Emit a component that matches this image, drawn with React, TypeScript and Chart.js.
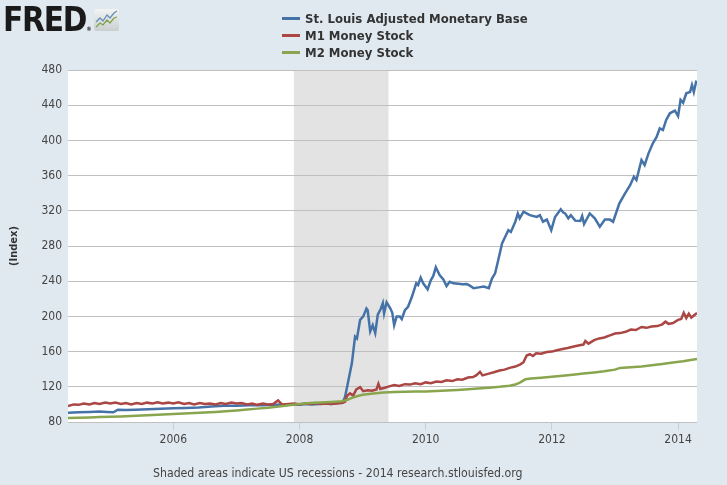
import React, { useEffect, useRef } from "react";
import { Chart, registerables } from "chart.js";

Chart.register(...registerables);

const seriesNames = ["St. Louis Adjusted Monetary Base", "M1 Money Stock", "M2 Money Stock"];
const seriesColors = ["#4572a7", "#aa4643", "#89a54e"];

const baseDates = [2004.33, 2004.5, 2004.67, 2004.83, 2004.95, 2005.05, 2005.12, 2005.25, 2005.4, 2005.6, 2005.8, 2006.0, 2006.2, 2006.4, 2006.6, 2006.8, 2007.0, 2007.2, 2007.4, 2007.6, 2007.8, 2008.0, 2008.1, 2008.2, 2008.3, 2008.4, 2008.5, 2008.6, 2008.68, 2008.72, 2008.76, 2008.83, 2008.88, 2008.91, 2008.96, 2009.01, 2009.06, 2009.08, 2009.12, 2009.16, 2009.2, 2009.24, 2009.29, 2009.32, 2009.34, 2009.38, 2009.44, 2009.47, 2009.5, 2009.54, 2009.59, 2009.62, 2009.67, 2009.72, 2009.78, 2009.85, 2009.88, 2009.92, 2009.96, 2010.03, 2010.08, 2010.12, 2010.16, 2010.22, 2010.28, 2010.33, 2010.38, 2010.44, 2010.52, 2010.58, 2010.65, 2010.7, 2010.76, 2010.84, 2010.92, 2011.0, 2011.05, 2011.1, 2011.15, 2011.21, 2011.26, 2011.31, 2011.35, 2011.42, 2011.46, 2011.49, 2011.55, 2011.65, 2011.76, 2011.81, 2011.86, 2011.92, 2011.99, 2012.05, 2012.14, 2012.18, 2012.21, 2012.26, 2012.3, 2012.37, 2012.45, 2012.48, 2012.51, 2012.6, 2012.68, 2012.76, 2012.84, 2012.92, 2012.97, 2013.07, 2013.16, 2013.24, 2013.3, 2013.34, 2013.42, 2013.47, 2013.53, 2013.6, 2013.66, 2013.71, 2013.76, 2013.81, 2013.87, 2013.95, 2014.0, 2014.04, 2014.08, 2014.13, 2014.19, 2014.22, 2014.25, 2014.29];
const baseValues = [90.5, 91, 91.5, 92, 91.5, 91, 94, 93.5, 94, 94.5, 95, 95.5, 96, 96.5, 97.5, 98.5, 98.5, 99, 99, 99.5, 100, 99.5, 100.5, 100, 100.5, 101, 100.5, 101.5, 102, 108, 122, 147, 177, 175, 196, 200, 209, 207, 183, 190, 181, 202, 209, 215, 203.5, 216, 209, 204, 190, 200, 200, 197, 207, 211, 222, 237.6, 235.7, 244, 237.6, 230.8, 241, 246, 255.8, 247, 242, 234.5, 239.4, 237.6, 237, 236.5, 236.8, 235, 232, 233, 234, 232, 243, 249, 264, 283, 290.6, 298, 296, 307.6, 317, 311.5, 319, 315, 313, 315, 307.6, 310, 298, 313, 321.7, 318, 317, 311.5, 315, 308.8, 308.4, 314, 305, 317, 311.5, 302, 310, 310, 307.6, 328.5, 339.9, 349, 358.8, 355, 377.7, 372, 385, 396.7, 404, 413.7, 411.8, 423, 430.8, 433.8, 427.7, 446, 442.8, 453.5, 455, 463, 455, 468];

const m1Dates = [2004.33, 2004.42, 2004.5, 2004.58, 2004.67, 2004.75, 2004.83, 2004.92, 2005.0, 2005.08, 2005.17, 2005.25, 2005.33, 2005.42, 2005.5, 2005.58, 2005.67, 2005.75, 2005.83, 2005.92, 2006.0, 2006.08, 2006.17, 2006.25, 2006.33, 2006.42, 2006.5, 2006.58, 2006.67, 2006.75, 2006.83, 2006.92, 2007.0, 2007.08, 2007.17, 2007.25, 2007.33, 2007.42, 2007.5, 2007.58, 2007.66, 2007.72, 2007.83, 2007.92, 2008.0, 2008.08, 2008.17, 2008.25, 2008.33, 2008.42, 2008.5, 2008.58, 2008.67, 2008.72, 2008.75, 2008.8, 2008.85, 2008.9, 2008.96, 2009.01, 2009.08, 2009.15, 2009.22, 2009.25, 2009.28, 2009.35, 2009.42, 2009.5, 2009.58, 2009.67, 2009.75, 2009.83, 2009.92, 2010.0, 2010.08, 2010.17, 2010.25, 2010.33, 2010.42, 2010.5, 2010.58, 2010.67, 2010.75, 2010.8, 2010.86, 2010.9, 2011.0, 2011.08, 2011.17, 2011.25, 2011.33, 2011.42, 2011.5, 2011.55, 2011.6, 2011.65, 2011.7, 2011.75, 2011.83, 2011.92, 2012.0, 2012.08, 2012.17, 2012.25, 2012.33, 2012.42, 2012.5, 2012.53, 2012.58, 2012.67, 2012.75, 2012.83, 2012.92, 2013.0, 2013.08, 2013.17, 2013.25, 2013.33, 2013.42, 2013.5, 2013.58, 2013.67, 2013.75, 2013.8, 2013.85, 2013.92, 2014.0, 2014.05, 2014.09, 2014.13, 2014.17, 2014.21, 2014.25, 2014.3];
const m1Values = [98, 100, 99.5, 101, 100, 101.5, 100.5, 102, 101, 102, 100.5, 101.5, 100, 101.5, 100.5, 102, 101, 102.5, 101, 102, 101, 102.5, 100.5, 101.5, 100, 101.5, 100.5, 101, 100, 101.5, 100.5, 102, 101, 101.5, 100, 101, 99.5, 101, 100, 100.5, 104.5, 100, 100.5, 101, 100, 101, 100.5, 101.5, 100.5, 101, 100.5, 101, 101.5, 103, 109.5, 112.5, 110, 117, 119.5, 115, 116, 115.5, 117, 123.5, 117.5, 119, 120.5, 122, 121, 123, 122.5, 124, 123, 125, 124, 126, 125.5, 127.5, 126.5, 128.5, 128, 130.5, 131, 133, 137, 133, 135, 136.5, 138.5, 139.5, 141.5, 143, 145.5, 148, 155.5, 157, 155, 158, 157.5, 159.5, 160, 161.5, 163, 164, 165.5, 167, 168, 172, 169, 173, 175, 176, 178.5, 180.5, 181, 182.5, 185, 184.5, 188, 187, 188.5, 189, 191, 194, 191.5, 192.5, 196, 197, 204, 198, 203, 198.5, 201, 204];

const m2Dates = [2004.33, 2004.5, 2004.67, 2004.83, 2005.0, 2005.17, 2005.33, 2005.5, 2005.67, 2005.83, 2006.0, 2006.17, 2006.33, 2006.5, 2006.67, 2006.83, 2007.0, 2007.17, 2007.33, 2007.5, 2007.67, 2007.83, 2008.0, 2008.17, 2008.33, 2008.5, 2008.67, 2008.75, 2008.83, 2008.92, 2009.0, 2009.17, 2009.33, 2009.5, 2009.67, 2009.83, 2010.0, 2010.17, 2010.33, 2010.5, 2010.67, 2010.83, 2011.0, 2011.17, 2011.33, 2011.42, 2011.5, 2011.58, 2011.67, 2011.83, 2012.0, 2012.17, 2012.33, 2012.5, 2012.67, 2012.83, 2013.0, 2013.08, 2013.25, 2013.42, 2013.58, 2013.75, 2013.92, 2014.08, 2014.2, 2014.3];
const m2Values = [84.5, 84.8, 85.2, 85.6, 86, 86.3, 86.8, 87.3, 87.9, 88.5, 89, 89.6, 90.2, 90.8, 91.5, 92.3, 93.2, 94.2, 95.2, 96.2, 97.5, 99, 100.5, 101.5, 102.2, 102.8, 103.5, 105, 107.5, 109.5, 111, 112.5, 113.5, 114, 114.3, 114.6, 114.8, 115.2, 115.8, 116.5, 117.3, 118, 119, 120, 121.3, 122.5, 125, 128.5, 129.5, 130.3, 131.3, 132.5, 133.7, 135, 136.3, 137.7, 139.5, 141.5, 142.3, 143, 144.5, 146, 147.5, 149, 150.5, 151.5];

const xTickValues = [2006, 2008, 2010, 2012, 2014];
const xTickLabels = ["2006", "2008", "2010", "2012", "2014"];
const recessionStart = 2007.91;
const recessionEnd = 2009.41;
const xMin = 2004.33;
const xMax = 2014.3;
const yMin = 80;
const yMax = 480;
const yStep = 40;
const yTitle = "(Index)";
const footnote = "Shaded areas indicate US recessions - 2014 research.stlouisfed.org";

const FONT = "'DejaVu Sans Condensed', 'DejaVu Sans', sans-serif";

function pairs(xs: number[], ys: number[]) {
  return xs.map((x, i) => ({ x, y: ys[i] }));
}

const backgroundPlugin = {
  id: "fredBackground",
  beforeDraw(chart: any) {
    const { ctx, chartArea, scales } = chart;
    if (!chartArea) return;
    ctx.save();
    ctx.fillStyle = "#ffffff";
    ctx.fillRect(chartArea.left, chartArea.top, chartArea.right - chartArea.left, chartArea.bottom - chartArea.top);
    const x0 = scales.x.getPixelForValue(recessionStart);
    const x1 = scales.x.getPixelForValue(recessionEnd);
    ctx.fillStyle = "#e3e3e3";
    ctx.fillRect(x0, chartArea.top, x1 - x0, chartArea.bottom - chartArea.top);
    ctx.restore();
  },
};

export default function App() {
  const canvasRef = useRef<HTMLCanvasElement | null>(null);

  useEffect(() => {
    document.body.style.margin = "0";
    const canvas = canvasRef.current;
    if (!canvas) return;
    const datasets = [
      pairs(baseDates, baseValues),
      pairs(m1Dates, m1Values),
      pairs(m2Dates, m2Values),
    ].map((data, i) => ({
      label: seriesNames[i],
      data,
      borderColor: seriesColors[i],
      backgroundColor: seriesColors[i],
      borderWidth: 2.5,
      pointRadius: 0,
      tension: 0,
      fill: false,
    }));
    const chart = new Chart(canvas, {
      type: "line",
      data: { datasets: datasets.slice().reverse() as any },
      plugins: [backgroundPlugin],
      options: {
        animation: false,
        responsive: false,
        maintainAspectRatio: false,
        layout: { padding: { top: 70, right: 30, bottom: 0, left: 0 } },
        plugins: { legend: { display: false }, tooltip: { enabled: false } },
        scales: {
          x: {
            type: "linear",
            min: xMin,
            max: xMax,
            afterFit: (s: any) => {
              s.height = 63;
            },
            afterBuildTicks: (s: any) => {
              s.ticks = xTickValues.map((v) => ({ value: v }));
            },
            ticks: {
              autoSkip: false,
              maxRotation: 0,
              padding: 3,
              color: "#444",
              font: { family: FONT, size: 12 },
              callback: (v: any) => {
                const idx = xTickValues.indexOf(Number(v));
                return idx >= 0 ? xTickLabels[idx] : "";
              },
            },
            grid: { drawOnChartArea: false, drawTicks: true, tickLength: 8, color: "#c0d0e0", lineWidth: 1 },
            border: { display: false },
          },
          y: {
            type: "linear",
            min: yMin,
            max: yMax,
            afterFit: (s: any) => {
              s.width = 68;
            },
            ticks: { stepSize: yStep, padding: 6, color: "#444", font: { family: FONT, size: 12 } },
            grid: { drawTicks: false, color: "#c0c0c0", lineWidth: 1 },
            border: { display: false },
            title: {
              display: true,
              text: yTitle,
              color: "#333",
              padding: { top: 8, bottom: 0 },
              font: { family: FONT, size: 11, weight: "bold" },
            },
          },
        },
      },
    });
    return () => chart.destroy();
  }, []);

  return (
    <div style={{ position: "fixed", left: 0, top: 0, width: 727, height: 485, background: "#e1e9f0", overflow: "hidden", fontFamily: FONT }}>
      <canvas ref={canvasRef} width={727} height={485} style={{ position: "absolute", left: 0, top: 0 }} />
      <div style={{ position: "absolute", left: 3, top: 2, fontSize: 33, fontWeight: 900, color: "#1a1a1a", letterSpacing: -1.2, lineHeight: "36px", fontFamily: "'DejaVu Sans Condensed', 'DejaVu Sans', sans-serif" }}>
        FRED<span style={{ fontSize: 6, letterSpacing: 0, verticalAlign: "baseline" }}>®</span>
      </div>
      <svg width={25} height={22} style={{ position: "absolute", left: 94, top: 9 }}>
        <defs>
          <linearGradient id="fg" x1="0" y1="0" x2="0" y2="1">
            <stop offset="0" stopColor="#f2f4f4" />
            <stop offset="1" stopColor="#c9cfcf" />
          </linearGradient>
        </defs>
        <rect x={0} y={0} width={25} height={22} rx={2} fill="url(#fg)" />
        <polyline points="2,13 6,9 9,12 13,6 16,9 20,4 23,2" fill="none" stroke="#6a8fb8" strokeWidth={1.3} />
        <polyline points="2,18 6,14 9,16 13,11 16,14 20,9 23,8" fill="none" stroke="#7fa34a" strokeWidth={1.3} />
      </svg>
      {seriesNames.map((name, i) => (
        <div key={name} style={{ position: "absolute", left: 282, top: 10 + i * 17, height: 17, display: "flex", alignItems: "center", whiteSpace: "nowrap" }}>
          <div style={{ width: 18, height: 3, background: seriesColors[i], marginRight: 5 }} />
          <span style={{ fontSize: 13, fontWeight: "bold", color: "#333" }}>{name}</span>
        </div>
      ))}
      <div style={{ position: "absolute", left: 153, top: 466, fontSize: 12.2, color: "#444", whiteSpace: "nowrap" }}>{footnote}</div>
    </div>
  );
}
